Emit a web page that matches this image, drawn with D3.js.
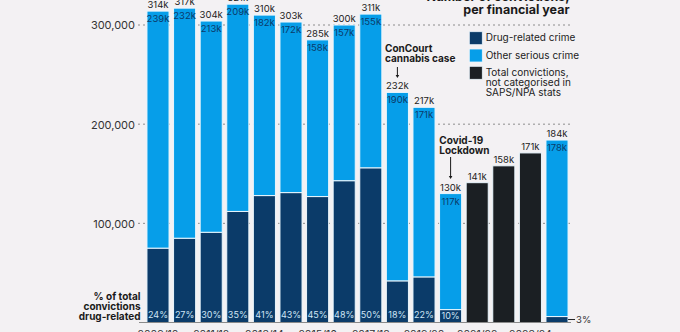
<!DOCTYPE html>
<html>
<head>
<meta charset="utf-8">
<script src="https://cdn.jsdelivr.net/npm/d3@7"></script>
<style>
  html, body { margin: 0; padding: 0; background: #f3f1f3; }
  svg { display: block; font-family: Inter, "Noto Sans", sans-serif; }
</style>
</head>
<body>
<svg id="chart" width="680" height="332"></svg>
<script>
// Financial years
const years = ["2009/10","2010/11","2011/12","2012/13","2013/14","2014/15","2015/16","2016/17",
               "2017/18","2018/19","2019/20","2020/21","2021/22","2022/23","2023/24","2024/25"];
// Convictions in thousands (null = not available for that category)
const drugRelated   = [75, 85, 91, 112, 128, 131, 127, 143, 156, 42, 46, 13, null, null, null, 6];
const otherSerious  = [239, 232, 213, 209, 182, 172, 158, 157, 155, 190, 171, 117, null, null, null, 178];
const uncategorised = [null, null, null, null, null, null, null, null, null, null, null, null, 141, 158, 171, null];
// Share of total convictions that were drug-related (%)
const drugShare     = [24, 27, 30, 35, 41, 43, 45, 48, 50, 18, 22, 10, null, null, null, 3];
// Axis ticks (thousands)
const yTicks = [100, 200, 300];

const C = {
  drug: "#0b3b69",
  other: "#069ee9",
  total: "#1b1f23",
  text: "#222",
  grid: "#8c8c8c"
};

const svg = d3.select("#chart");

const x = d3.scaleBand().domain(years).range([144.7, 570.3]).paddingInner(0.17).paddingOuter(0.085);
const y = d3.scaleLinear().domain([0, 300]).range([322.5, 25]);

const rows = years.map((yr, i) => ({
  yr, i,
  drug: drugRelated[i], other: otherSerious[i], unc: uncategorised[i], share: drugShare[i],
  total: uncategorised[i] != null ? uncategorised[i] : drugRelated[i] + otherSerious[i]
}));

// Gridlines and y-axis labels
const yAxis = d3.axisLeft(y).tickValues(yTicks).tickSize(0).tickPadding(0)
  .tickFormat(d => d3.format(",")(d * 1000));
const gAxis = svg.append("g").attr("transform", "translate(135,0)").call(yAxis);
gAxis.select(".domain").remove();
gAxis.selectAll("text").attr("font-size", 11).attr("fill", "#333").attr("font-family", "Inter")
  .attr("dy", "0.35em");
svg.append("g").selectAll("line").data(yTicks).join("line")
  .attr("x1", 138).attr("x2", 571)
  .attr("y1", d => y(d)).attr("y2", d => y(d))
  .attr("stroke", C.grid).attr("stroke-width", 1).attr("stroke-dasharray", "2,3");

// Bars
const bars = svg.append("g").attr("stroke", "#eaf6fd").attr("stroke-width", 1);
rows.forEach(r => {
  const bx = x(r.yr), bw = x.bandwidth();
  if (r.unc != null) {
    bars.append("rect").attr("x", bx).attr("width", bw)
      .attr("y", y(r.unc)).attr("height", y(0) - y(r.unc)).attr("fill", C.total);
  } else {
    bars.append("rect").attr("x", bx).attr("width", bw)
      .attr("y", y(r.drug)).attr("height", y(0) - y(r.drug)).attr("fill", C.drug);
    bars.append("rect").attr("x", bx).attr("width", bw)
      .attr("y", y(r.drug + r.other)).attr("height", y(r.drug) - y(r.drug + r.other)).attr("fill", C.other);
  }
});

// Baseline
svg.append("line").attr("x1", 139).attr("x2", 571).attr("y1", y(0)).attr("y2", y(0))
  .attr("stroke", "#8a8a8a").attr("stroke-width", 1);

const cx = d => x(d) + x.bandwidth() / 2;

// Total labels above bars
svg.append("g").selectAll("text").data(rows).join("text")
  .attr("x", d => cx(d.yr)).attr("y", d => y(d.total) - 3)
  .attr("text-anchor", "middle").attr("font-size", 9.5).attr("fill", C.text)
  .text(d => d.total + "k");

// Other serious crime labels inside bars
svg.append("g").selectAll("text").data(rows.filter(r => r.other != null)).join("text")
  .attr("x", d => cx(d.yr)).attr("y", d => y(d.total) + 11)
  .attr("text-anchor", "middle").attr("font-size", 9.5).attr("fill", C.drug)
  .text(d => d.other + "k");

// Drug share labels at the foot of each bar
svg.append("g").selectAll("text").data(rows.filter(r => r.share != null && r.share >= 5)).join("text")
  .attr("x", d => cx(d.yr)).attr("y", d => y(0) - 4.5 + (d.share < 15 ? 1 : 0))
  .attr("text-anchor", "middle").attr("font-size", 9).attr("fill", "#cfe5f5")
  .text(d => d.share + "%");
rows.filter(r => r.share != null && r.share < 5).forEach(r => {
  const yy = y(r.drug / 2);
  svg.append("line").attr("x1", x(r.yr) + x.bandwidth()).attr("x2", x(r.yr) + x.bandwidth() + 7)
    .attr("y1", yy).attr("y2", yy).attr("stroke", "#222").attr("stroke-width", 1);
  svg.append("text").attr("x", x(r.yr) + x.bandwidth() + 8).attr("y", yy + 3.3)
    .attr("font-size", 9.5).attr("fill", "#333").text(r.share + "%");
});

// X-axis year labels (every other year)
svg.append("g").selectAll("text").data(rows.filter(r => r.i % 2 === 0)).join("text")
  .attr("x", d => cx(d.yr)).attr("y", 338)
  .attr("text-anchor", "middle").attr("font-size", 10.5).attr("fill", "#333")
  .text(d => d.yr);

// Left note
const note = svg.append("text").attr("text-anchor", "end").attr("font-size", 10)
  .attr("font-weight", 700).attr("fill", "#1a1a1a");
[["% of total", 300], ["convictions", 310], ["drug-related", 320]].forEach(([t, yy]) =>
  note.append("tspan").attr("x", 140.5).attr("y", yy).text(t));

// Title
const title = svg.append("text").attr("text-anchor", "end").attr("font-size", 12.5)
  .attr("font-weight", 700).attr("fill", "#1a1a1a");
[["Number of convictions,", 0.5], ["per financial year", 14]].forEach(([t, yy]) =>
  title.append("tspan").attr("x", 569.5).attr("y", yy).text(t));

// Event annotations
function annotate(yr, lines, tx, ty, y1, y2) {
  const t = svg.append("text").attr("font-size", 10).attr("font-weight", 700).attr("fill", "#1a1a1a");
  lines.forEach((l, k) => t.append("tspan").attr("x", tx).attr("y", ty + k * 10.3).text(l));
  const ax = cx(yr);
  svg.append("line").attr("x1", ax).attr("x2", ax).attr("y1", y1).attr("y2", y2 - 2)
    .attr("stroke", "#1a1a1a").attr("stroke-width", 1);
  svg.append("path").attr("d", `M${ax - 1.8},${y2 - 3}L${ax + 1.8},${y2 - 3}L${ax},${y2}Z`).attr("fill", "#1a1a1a");
}
annotate("2018/19", ["ConCourt", "cannabis case"], 385, 52, 67, 78);
annotate("2020/21", ["Covid-19", "Lockdown"], 439.3, 144, 157, 179);

// Legend
const legend = [
  { color: C.drug, lines: ["Drug-related crime"], y: 31.7 },
  { color: C.other, lines: ["Other serious crime"], y: 49 },
  { color: C.total, lines: ["Total convictions,", "not categorised in", "SAPS/NPA stats"], y: 66.3 }
];
const lg = svg.append("g");
legend.forEach(d => {
  lg.append("rect").attr("x", 469.3).attr("y", d.y).attr("width", 13).attr("height", 13)
    .attr("fill", d.color).attr("stroke", "#eaf6fd").attr("stroke-width", 0.8);
  const t = lg.append("text").attr("font-size", 10).attr("fill", C.text);
  d.lines.forEach((l, k) => t.append("tspan").attr("x", 485.7).attr("y", d.y + 9.6 + k * 10.2).text(l));
});
</script>
</body>
</html>
